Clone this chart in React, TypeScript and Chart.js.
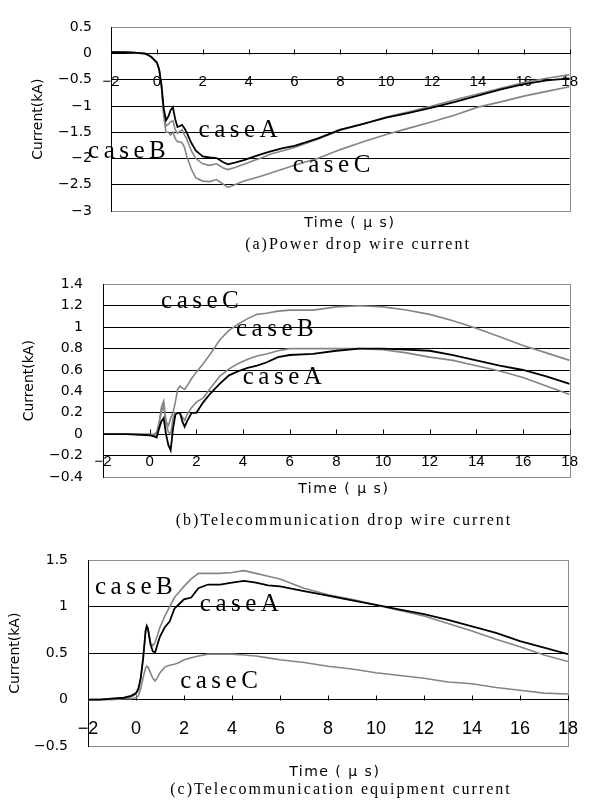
import React, { useEffect, useRef } from 'react';
import { Chart, registerables } from 'chart.js';
Chart.register(...registerables);

// ---------- (a) Power drop wire current ----------
const timePower = [-2, -1.5, -1, -0.5, -0.25, 0, 0.1, 0.2, 0.3, 0.4, 0.5, 0.6, 0.7, 0.8, 0.9, 1.0, 1.1, 1.2, 1.3, 1.5, 1.7, 2.0, 2.3, 2.6, 2.9, 3.1, 3.4, 3.8, 4.2, 4.6, 5, 5.5, 6, 7, 8, 9, 10, 11, 12, 13, 14, 15, 16, 17, 18];
const powerCaseA = [0.03, 0.03, 0.02, 0.0, -0.06, -0.17, -0.3, -0.6, -1.05, -1.27, -1.2, -1.08, -1.02, -1.25, -1.4, -1.38, -1.36, -1.42, -1.5, -1.7, -1.85, -1.96, -1.98, -1.99, -2.07, -2.11, -2.08, -2.03, -1.97, -1.91, -1.86, -1.8, -1.76, -1.62, -1.45, -1.34, -1.22, -1.13, -1.03, -0.92, -0.8, -0.68, -0.58, -0.51, -0.47];
const powerCaseB = [0.03, 0.03, 0.02, 0.0, -0.06, -0.17, -0.3, -0.62, -1.15, -1.38, -1.35, -1.3, -1.28, -1.45, -1.52, -1.48, -1.45, -1.55, -1.62, -1.85, -2.0, -2.1, -2.13, -2.1, -2.18, -2.21, -2.17, -2.11, -2.04, -1.98, -1.91, -1.85, -1.79, -1.63, -1.46, -1.34, -1.21, -1.11, -1.0, -0.88, -0.77, -0.66, -0.55, -0.47, -0.4];
const powerCaseC = [0.03, 0.03, 0.02, 0.0, -0.06, -0.17, -0.3, -0.62, -1.2, -1.5, -1.5, -1.55, -1.5, -1.62, -1.68, -1.68, -1.7, -1.78, -1.95, -2.2, -2.37, -2.43, -2.44, -2.4, -2.49, -2.55, -2.5, -2.43, -2.38, -2.33, -2.27, -2.2, -2.13, -2.0, -1.83, -1.68, -1.54, -1.42, -1.3, -1.17, -1.02, -0.92, -0.81, -0.72, -0.63];
const powerLabels = [
  { text: 'caseA', x: 1.82, y: -1.46 },
  { text: 'caseB', x: -3.0, y: -1.86 },
  { text: 'caseC', x: 5.92, y: -2.14 },
];

// ---------- (b) Telecommunication drop wire current ----------
const timeTelDrop = [-2, -1, 0, 0.2, 0.3, 0.4, 0.5, 0.6, 0.7, 0.8, 0.9, 1.0, 1.1, 1.2, 1.3, 1.4, 1.5, 1.6, 1.8, 2.0, 2.3, 2.6, 3.0, 3.4, 3.8, 4.2, 4.6, 5, 5.5, 6, 7, 8, 9, 10, 11, 12, 13, 14, 15, 16, 17, 18];
const telDropCaseA = [0.0, 0.0, -0.01, -0.02, -0.03, 0.05, 0.12, 0.15, 0.0, -0.1, -0.15, 0.05, 0.18, 0.2, 0.2, 0.12, 0.07, 0.12, 0.2, 0.2, 0.3, 0.38, 0.47, 0.55, 0.59, 0.62, 0.64, 0.67, 0.72, 0.74, 0.75, 0.78, 0.8, 0.8, 0.79, 0.78, 0.74, 0.69, 0.64, 0.6, 0.54, 0.47];
const telDropCaseB = [0.0, 0.0, 0.0, -0.01, 0.0, 0.1, 0.2, 0.27, 0.1, 0.02, 0.0, 0.15, 0.2, 0.2, 0.19, 0.16, 0.13, 0.18, 0.25, 0.3, 0.34, 0.43, 0.54, 0.61, 0.66, 0.7, 0.73, 0.75, 0.78, 0.8, 0.8, 0.8, 0.8, 0.79, 0.76, 0.72, 0.69, 0.64, 0.59, 0.53, 0.45, 0.37];
const telDropCaseC = [0.0, 0.0, 0.0, 0.0, 0.02, 0.1, 0.25, 0.31, 0.12, 0.08, 0.15, 0.2, 0.3, 0.42, 0.45, 0.43, 0.42, 0.45, 0.52, 0.58, 0.66, 0.75, 0.88, 0.97, 1.03, 1.08, 1.12, 1.13, 1.15, 1.16, 1.16, 1.19, 1.2, 1.19, 1.16, 1.12, 1.06, 0.99, 0.91, 0.83, 0.76, 0.69];
const telDropLabels = [
  { text: 'caseC', x: 0.49, y: 1.24 },
  { text: 'caseB', x: 3.7, y: 0.98 },
  { text: 'caseA', x: 3.99, y: 0.53 },
];

// ---------- (c) Telecommunication equipment current ----------
const timeEquip = [-2, -1.5, -1, -0.5, -0.2, 0, 0.1, 0.2, 0.3, 0.4, 0.45, 0.5, 0.6, 0.7, 0.8, 0.9, 1.0, 1.2, 1.4, 1.6, 1.8, 2.0, 2.3, 2.6, 3.0, 3.5, 4, 4.5, 5, 5.5, 6, 7, 8, 9, 10, 11, 12, 13, 14, 15, 16, 17, 18];
const equipCaseA = [0.0, 0.0, 0.01, 0.02, 0.04, 0.07, 0.12, 0.24, 0.45, 0.74, 0.79, 0.76, 0.6, 0.52, 0.51, 0.6, 0.68, 0.78, 0.84, 0.98, 1.03, 1.08, 1.1, 1.2, 1.24, 1.24, 1.26, 1.28, 1.26, 1.23, 1.22, 1.17, 1.12, 1.07, 1.02, 0.97, 0.92, 0.86, 0.79, 0.72, 0.63, 0.56, 0.49];
const equipCaseB = [0.0, 0.0, 0.01, 0.02, 0.03, 0.06, 0.1, 0.22, 0.45, 0.74, 0.8, 0.77, 0.62, 0.58, 0.62, 0.7, 0.78, 0.9, 1.0, 1.1, 1.16, 1.22, 1.3, 1.36, 1.36, 1.36, 1.37, 1.39, 1.36, 1.33, 1.3, 1.2, 1.13, 1.08, 1.02, 0.96, 0.9, 0.82, 0.74, 0.65, 0.57, 0.48, 0.41];
const equipCaseC = [0.0, 0.0, 0.0, 0.01, 0.01, 0.02, 0.04, 0.12, 0.24, 0.34, 0.36, 0.35, 0.29, 0.23, 0.2, 0.24, 0.29, 0.35, 0.37, 0.38, 0.4, 0.43, 0.45, 0.47, 0.49, 0.49, 0.49, 0.48, 0.47, 0.45, 0.43, 0.4, 0.36, 0.33, 0.29, 0.26, 0.23, 0.19, 0.17, 0.13, 0.1, 0.07, 0.06];
const equipLabels = [
  { text: 'caseB', x: -1.71, y: 1.21 },
  { text: 'caseA', x: 2.66, y: 1.03 },
  { text: 'caseC', x: 1.84, y: 0.2 },
];

const xTitle = 'Time ( μ s)';
const yTitle = 'Current(kA)';
const captions = [
  '(a)Power drop wire current',
  '(b)Telecommunication drop wire current',
  '(c)Telecommunication equipment current',
];

const BLACK = '#000000';
const GRAY = '#858585';

const fmt = (v: number) => {
  const r = Math.round(v * 10) / 10;
  return String(r).replace('-', '\u2212');
};

const decorPlugin = {
  id: 'decor',
  beforeDraw(chart: any) {
    const { ctx, chartArea: a } = chart;
    ctx.save();
    ctx.fillStyle = '#fff';
    ctx.fillRect(0, 0, chart.width, chart.height);
    ctx.strokeStyle = '#8c8c8c';
    ctx.lineWidth = 1;
    ctx.strokeRect(Math.round(a.left) + 0.5, Math.round(a.top) + 0.5, Math.round(a.right - a.left), Math.round(a.bottom - a.top));
    ctx.restore();
  },
  beforeDatasetsDraw(chart: any) {
    const { ctx } = chart;
    const xs = chart.scales.x;
    const ys = chart.scales.y;
    const y0 = Math.round(ys.getPixelForValue(0)) + 0.5;
    ctx.save();
    ctx.strokeStyle = BLACK;
    ctx.lineWidth = 1;
    ctx.beginPath();
    xs.ticks.forEach((t: any) => {
      const px = Math.round(xs.getPixelForValue(t.value)) + 0.5;
      ctx.moveTo(px, y0 - 5);
      ctx.lineTo(px, y0);
    });
    ctx.stroke();
    ctx.restore();
  },
  afterDatasetsDraw(chart: any, _args: any, opts: any) {
    const { ctx } = chart;
    const xs = chart.scales.x;
    const ys = chart.scales.y;
    ctx.save();
    ctx.font = '25px "Liberation Serif", "Times New Roman", serif';
    try { (ctx as any).letterSpacing = '4.5px'; } catch (e) {}
    ctx.fillStyle = BLACK;
    ctx.textAlign = 'left';
    ctx.textBaseline = 'middle';
    (opts.labels || []).forEach((l: any) => {
      ctx.fillText(l.text, xs.getPixelForValue(l.x), ys.getPixelForValue(l.y));
    });
    ctx.restore();
  },
};

type PanelProps = {
  top: number;
  height: number;
  times: number[];
  series: { label: string; values: number[]; color: string; width: number }[];
  yMin: number;
  yMax: number;
  yStep: number;
  plotLeft: number;
  plotRight: number;
  plotTop: number;
  plotBottom: number;
  yTitlePad: number;
  yLabelPad: number;
  xFontSize: number;
  yFontSize: number;
  labels: { text: string; x: number; y: number }[];
};

function Panel(p: PanelProps) {
  const ref = useRef<HTMLCanvasElement | null>(null);
  useEffect(() => {
    if (!ref.current) return;
    const chart = new Chart(ref.current, {
      type: 'line',
      data: {
        datasets: p.series.map((s) => ({
          label: s.label,
          data: p.times.map((t, i) => ({ x: t, y: s.values[i] })),
          borderColor: s.color,
          borderWidth: s.width,
          pointRadius: 0,
          tension: 0,
          fill: false,
        })),
      },
      options: {
        animation: false,
        responsive: false,
        devicePixelRatio: 1,
        layout: {
          padding: { left: 0, right: 597 - p.plotRight, top: p.plotTop, bottom: p.height - p.plotBottom },
        },
        plugins: {
          legend: { display: false },
          tooltip: { enabled: false },
          decor: { labels: p.labels },
        } as any,
        scales: {
          x: {
            type: 'linear',
            position: { y: 0 } as any,
            min: -2,
            max: 18,
            afterFit: (s: any) => { s.height = 0; },
            ticks: {
              stepSize: 2,
              autoSkip: false,
              maxRotation: 0,
              padding: 19,
              color: BLACK,
              font: { family: '"Liberation Sans", Arial, sans-serif', size: p.xFontSize },
              callback: (v: any) => fmt(Number(v)),
            },
            grid: { drawOnChartArea: false, drawTicks: false },
            border: { display: true, color: BLACK, width: 1 },
          },
          y: {
            type: 'linear',
            position: 'left',
            min: p.yMin,
            max: p.yMax,
            afterFit: (s: any) => { s.width = p.plotLeft; },
            ticks: {
              stepSize: p.yStep,
              padding: p.yLabelPad,
              color: BLACK,
              font: { family: '"DejaVu Sans", sans-serif', size: p.yFontSize },
              callback: (v: any) => fmt(Number(v)),
            },
            grid: {
              drawTicks: false,
              color: (c: any) => (c.index === 0 || c.index === c.scale.ticks.length - 1 ? 'rgba(0,0,0,0)' : BLACK),
              lineWidth: 1,
            },
            border: { display: true, color: BLACK, width: 1 },
            title: {
              display: true,
              text: yTitle,
              color: BLACK,
              font: { family: '"DejaVu Sans", sans-serif', size: 14 },
              padding: { top: p.yTitlePad, bottom: 0 },
            },
          },
        },
      } as any,
      plugins: [decorPlugin as any],
    });
    return () => chart.destroy();
  }, []);
  return (
    <canvas
      ref={ref}
      width={597}
      height={p.height}
      style={{ position: 'absolute', left: 0, top: p.top, width: 597, height: p.height, display: 'block' }}
    />
  );
}

function Text(props: { cx: number; cy: number; text: string; serif?: boolean; size: number; spacing: number }) {
  return (
    <div
      style={{
        position: 'absolute',
        left: props.cx - 300 + props.spacing / 2,
        width: 600,
        top: props.cy - 10,
        height: 20,
        lineHeight: '20px',
        textAlign: 'center',
        whiteSpace: 'nowrap',
        fontFamily: props.serif ? '"Liberation Serif", "Times New Roman", serif' : '"DejaVu Sans", sans-serif',
        fontSize: props.size,
        letterSpacing: props.spacing,
        color: '#000',
      }}
    >
      {props.text}
    </div>
  );
}

export default function App() {
  return (
    <div style={{ position: 'absolute', left: 0, top: 0, width: 597, height: 806, background: '#fff', overflow: 'hidden' }}>
      <Panel
        top={0}
        height={256}
        times={timePower}
        series={[
          { label: 'caseA', values: powerCaseA, color: BLACK, width: 1.8 },
          { label: 'caseB', values: powerCaseB, color: GRAY, width: 1.6 },
          { label: 'caseC', values: powerCaseC, color: GRAY, width: 1.6 },
        ]}
        yMin={-3}
        yMax={0.5}
        yStep={0.5}
        plotLeft={111}
        plotRight={588}
        plotTop={15}
        plotBottom={211}
        yTitlePad={30}
        yLabelPad={19}
        xFontSize={15}
        yFontSize={14}
        labels={powerLabels}
      />
      <Text cx={349} cy={222} text={xTitle} size={14} spacing={1.5} />
      <Text cx={357} cy={244} text={captions[0]} serif size={16} spacing={2} />

      <Panel
        top={256}
        height={276}
        times={timeTelDrop}
        series={[
          { label: 'caseA', values: telDropCaseA, color: BLACK, width: 1.8 },
          { label: 'caseB', values: telDropCaseB, color: GRAY, width: 1.6 },
          { label: 'caseC', values: telDropCaseC, color: GRAY, width: 1.6 },
        ]}
        yMin={-0.4}
        yMax={1.4}
        yStep={0.2}
        plotLeft={103}
        plotRight={584}
        plotTop={24}
        plotBottom={221}
        yTitlePad={21}
        yLabelPad={20}
        xFontSize={15}
        yFontSize={14}
        labels={telDropLabels}
      />
      <Text cx={343} cy={488} text={xTitle} size={14} spacing={1.5} />
      <Text cx={343} cy={520} text={captions[1]} serif size={16} spacing={2} />

      <Panel
        top={532}
        height={274}
        times={timeEquip}
        series={[
          { label: 'caseA', values: equipCaseA, color: BLACK, width: 1.8 },
          { label: 'caseB', values: equipCaseB, color: GRAY, width: 1.6 },
          { label: 'caseC', values: equipCaseC, color: GRAY, width: 1.6 },
        ]}
        yMin={-0.5}
        yMax={1.5}
        yStep={0.5}
        plotLeft={88}
        plotRight={577}
        plotTop={17}
        plotBottom={214}
        yTitlePad={7}
        yLabelPad={20}
        xFontSize={18}
        yFontSize={14}
        labels={equipLabels}
      />
      <Text cx={334} cy={771} text={xTitle} size={14} spacing={1.5} />
      <Text cx={340} cy={789} text={captions[2]} serif size={16} spacing={2} />
    </div>
  );
}
